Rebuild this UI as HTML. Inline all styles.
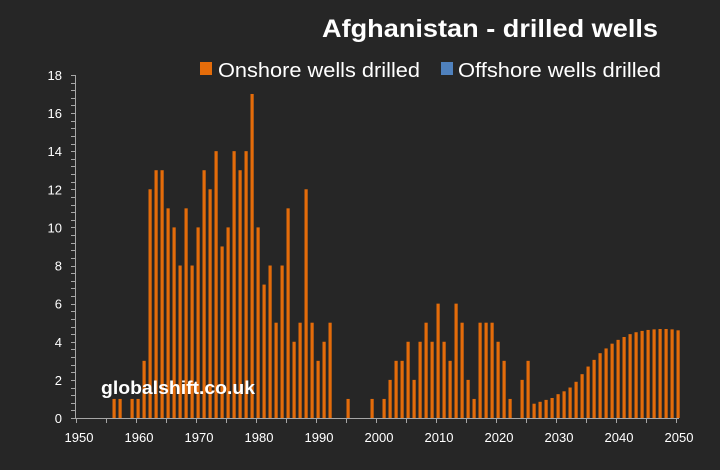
<!DOCTYPE html>
<html><head><meta charset="utf-8"><style>
html,body{margin:0;padding:0;background:#262626;}
svg{display:block;font-family:"Liberation Sans",Calibri,sans-serif;}
</style></head><body>
<svg id="c" width="720" height="470" viewBox="0 0 720 470">
<rect width="720" height="470" fill="#262626"/>
<text x="658" y="37" text-anchor="end" fill="#fff" font-size="25" font-weight="bold" textLength="336" lengthAdjust="spacingAndGlyphs">Afghanistan - drilled wells</text>
<rect x="200" y="62" width="12" height="13" fill="#e46c0a"/>
<text x="218" y="77" fill="#fff" font-size="20" textLength="202" lengthAdjust="spacingAndGlyphs">Onshore wells drilled</text>
<rect x="441" y="62" width="12" height="13" fill="#4f81bd"/>
<text x="458" y="77" fill="#fff" font-size="20" textLength="203" lengthAdjust="spacingAndGlyphs">Offshore wells drilled</text>
<g id="ax" stroke="#a6a6a6" stroke-width="1"></g>
<g id="yl" fill="#fff" font-size="13" text-anchor="end"></g>
<g id="xl" fill="#fff" font-size="13" text-anchor="middle"></g>
<g id="bars" fill="#e46c0a"></g>
<text x="101" y="394" fill="#fff" font-size="18" font-weight="bold" textLength="154" lengthAdjust="spacingAndGlyphs">globalshift.co.uk</text>
</svg>
<script>
var ns="http://www.w3.org/2000/svg";
function el(p,t,a,txt){var e=document.createElementNS(ns,t);for(var k in a)e.setAttribute(k,a[k]);if(txt!=null)e.textContent=txt;document.getElementById(p).appendChild(e);}
var y0=418,u=19.06,x0=76,px=6;
el("ax","line",{x1:75.5,y1:75,x2:75.5,y2:418});
el("ax","line",{x1:75,y1:418.5,x2:679,y2:418.5});
for(var i=0;i<=45;i++){var y=Math.round(y0-i*0.4*u)+0.5;el("ax","line",{x1:71,y1:y,x2:75,y2:y});}
for(var v=0;v<=18;v+=2){el("yl","text",{x:62,y:y0-v*u+5},v);}
for(var yr=1950;yr<=2050;yr+=5){var x=Math.round(x0+(yr-1950)*px)+0.5;el("ax","line",{x1:x,y1:418,x2:x,y2:423});}
for(var yr=1950;yr<=2050;yr+=10){el("xl","text",{x:x0+(yr-1950)*px+3,y:442},yr);}
var d={1956:1,1957:1,1959:1,1960:1,1961:3,1962:12,1963:13,1964:13,1965:11,1966:10,1967:8,1968:11,1969:8,1970:10,1971:13,1972:12,1973:14,1974:9,1975:10,1976:14,1977:13,1978:14,1979:17,1980:10,1981:7,1982:8,1983:5,1984:8,1985:11,1986:4,1987:5,1988:12,1989:5,1990:3,1991:4,1992:5,1995:1,1999:1,2001:1,2002:2,2003:3,2004:3,2005:4,2006:2,2007:4,2008:5,2009:4,2010:6,2011:4,2012:3,2013:6,2014:5,2015:2,2016:1,2017:5,2018:5,2019:5,2020:4,2021:3,2022:1,2024:2,2025:3};
var f=[0.75,0.85,0.95,1.05,1.25,1.4,1.6,1.9,2.3,2.7,3.05,3.4,3.65,3.9,4.1,4.25,4.4,4.5,4.57,4.62,4.65,4.67,4.67,4.65,4.6];
for(var i=0;i<f.length;i++)d[2026+i]=f[i];
for(var k in d){var h=d[k]*u;el("bars","rect",{x:x0+(k-1950)*px+0.5,y:y0-h,width:3.2,height:h});}
</script>
</body></html>
